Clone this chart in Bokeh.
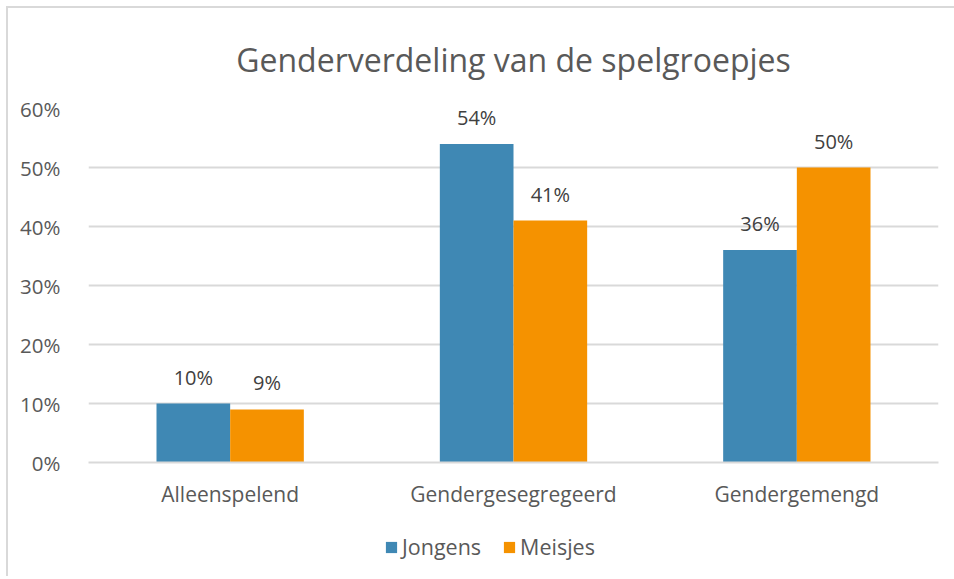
from bokeh.plotting import figure
from bokeh.layouts import column
from bokeh.models import (ColumnDataSource, NumeralTickFormatter, LabelSet,
                          Legend, LegendItem, Range1d, FixedTicker)
from bokeh.transform import dodge
from bokeh.core.properties import value
from bokeh.embed import file_html
from bokeh.resources import INLINE

# ---- data ----
categories = ["Alleenspelend", "Gendergesegregeerd", "Gendergemengd"]
series_names = ["Jongens", "Meisjes"]
jongens = [0.10, 0.54, 0.36]
meisjes = [0.09, 0.41, 0.50]
y_ticks = [0.0, 0.1, 0.2, 0.3, 0.4, 0.5, 0.6]
title_text = "Genderverdeling van de spelgroepjes"

# ---- styles ----
FONT = "Open Sans"
GREY = "#595959"
DARK = "#404040"
GRID = "#d9d9d9"
BLUE = "#3f88b4"
ORANGE = "#f59200"
colors = [BLUE, ORANGE]

src = ColumnDataSource(dict(
    cat=categories,
    jongens=jongens,
    meisjes=meisjes,
    jl=[f"{round(v * 100)}%" for v in jongens],
    ml=[f"{round(v * 100)}%" for v in meisjes],
))

p = figure(x_range=categories, y_range=Range1d(0, 0.6),
           frame_width=850, frame_height=354,
           min_border_left=80, min_border_right=16,
           min_border_top=99, min_border_bottom=44,
           output_backend="svg", toolbar_location=None)

p.title.text = title_text
p.title.align = "center"
p.title.text_font = FONT
p.title.text_font_size = "32px"
p.title.text_font_style = "normal"
p.title.text_color = GREY
if "standoff" in p.title.properties():
    p.title.standoff = 55

bw = 0.26
r1 = p.vbar(x=dodge("cat", -bw / 2, range=p.x_range), top="jongens", width=bw,
            source=src, fill_color=BLUE, line_color=None)
r2 = p.vbar(x=dodge("cat", bw / 2, range=p.x_range), top="meisjes", width=bw,
            source=src, fill_color=ORANGE, line_color=None)

for col, lab, off in (("jongens", "jl", -bw / 2), ("meisjes", "ml", bw / 2)):
    ls = LabelSet(x=dodge("cat", off, range=p.x_range), y=col, text=lab, source=src,
                  text_align="center", text_baseline="alphabetic", y_offset=19,
                  text_font=value(FONT), text_font_size=value("20px"), text_color=DARK)
    p.add_layout(ls)

# axes
p.yaxis.ticker = FixedTicker(ticks=y_ticks)
p.yaxis.formatter = NumeralTickFormatter(format="0%")
p.yaxis.axis_line_color = None
p.yaxis.major_tick_line_color = None
p.yaxis.minor_tick_line_color = None
p.yaxis.major_label_standoff = 22
p.yaxis.major_label_text_font = FONT
p.yaxis.major_label_text_font_size = "20.5px"
p.yaxis.major_label_text_color = GREY

p.xaxis.axis_line_color = GRID
p.xaxis.axis_line_width = 2
p.xaxis.major_tick_line_color = None
p.xaxis.minor_tick_line_color = None
p.xaxis.major_label_standoff = 11
p.xaxis.major_label_text_font = FONT
p.xaxis.major_label_text_font_size = "21px"
p.xaxis.major_label_text_color = GREY

p.xgrid.grid_line_color = None
p.ygrid.grid_line_color = GRID
p.ygrid.grid_line_width = 2
p.outline_line_color = None
p.x_range.range_padding = 0.0

# ---- legend strip (separate small plot holding only the legend) ----
pl = figure(width=946, height=66, x_range=Range1d(0, 1), y_range=Range1d(0, 1),
            min_border=0, output_backend="svg", toolbar_location=None)
pl.axis.visible = False
pl.grid.grid_line_color = None
pl.outline_line_color = None
leg_renderers = []
for name, c in zip(series_names, colors):
    # zero-size swatch carriers: they only give the legend its colours
    leg_renderers.append(pl.vbar(x=[0.5], top=[0], bottom=[0], width=0,
                                 fill_color=c, line_color=None))

legend = Legend(items=[LegendItem(label=n, renderers=[r])
                       for n, r in zip(series_names, leg_renderers)],
                orientation="horizontal", location=(296, 15),
                glyph_width=14, glyph_height=14, label_standoff=4, spacing=21,
                padding=0, margin=0, border_line_color=None,
                label_text_font=FONT, label_text_font_size="21.5px",
                label_text_color=GREY, background_fill_alpha=0)
pl.add_layout(legend, "center")

layout = column(p, pl, spacing=0)
layout.styles = {"border-top": "2px solid #d9d9d9", "border-left": "2px solid #d9d9d9",
                 "margin-left": "6px", "margin-top": "6px"}

open("out.html", "w").write(file_html(layout, INLINE))
